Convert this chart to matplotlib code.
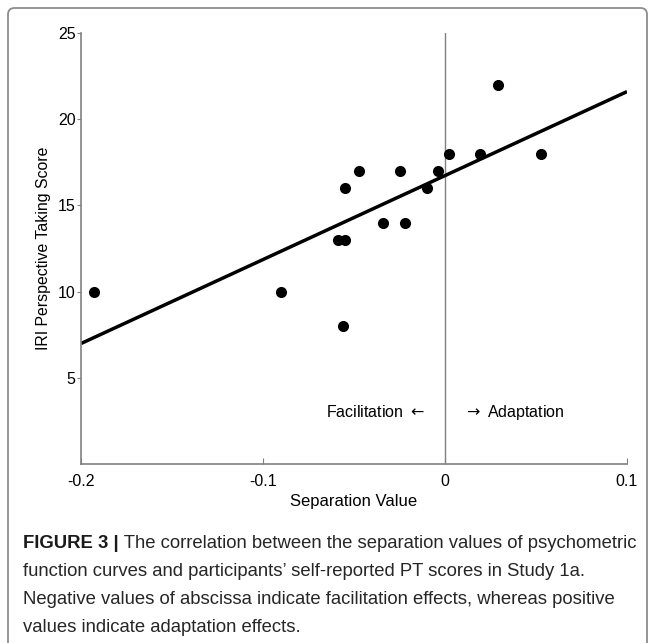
import numpy as np
import matplotlib
matplotlib.use('Agg')
import matplotlib.pyplot as plt
from matplotlib.patches import FancyBboxPatch

plt.rcParams['font.family'] = ['Liberation Sans', 'DejaVu Sans']

# separation values and PT scores
separation = [-0.193, -0.090, -0.059, -0.055, -0.056, -0.055, -0.0475, -0.034,
              -0.025, -0.022, -0.010, -0.004, 0.0024, 0.019, 0.029, 0.0525]
pt_score = [10, 10, 13, 13, 8, 16, 17, 14, 17, 14, 16, 17, 18, 18, 22, 18]

x_ticks = [-0.2, -0.1, 0, 0.1]
x_tick_labels = ['-0.2', '-0.1', '0', '0.1']
y_ticks = [5, 10, 15, 20, 25]

caption_bold = 'FIGURE 3 |'
caption_lines = [
    ' The correlation between the separation values of psychometric',
    'function curves and participants\u2019 self-reported PT scores in Study 1a.',
    'Negative values of abscissa indicate facilitation effects, whereas positive',
    'values indicate adaptation effects.',
]

W, H = 655, 643
fig = plt.figure(figsize=(W / 100, H / 100), dpi=100)

# light frame around the whole figure
frame = FancyBboxPatch((8 / W, -0.05), (W - 16) / W, 1.05 - 8 / H,
                       boxstyle='round,pad=0,rounding_size=0.01',
                       transform=fig.transFigure, fill=False,
                       edgecolor='#8c8c8c', linewidth=1.3)
fig.patches.append(frame)

ax = fig.add_axes([81 / W, 1 - 464 / H, 546 / W, 431 / H])

gray = '#808080'
ax.axvline(0, color=gray, linewidth=1.0, zorder=1)

ax.scatter(separation, pt_score, s=64, color='black', zorder=3, linewidths=0)

slope, intercept = np.polyfit(separation, pt_score, 1)
xl = np.array([-0.2, 0.1])
ax.plot(xl, slope * xl + intercept, color='black', linewidth=2.5, zorder=2,
        solid_capstyle='butt')

ax.set_xlim(-0.2, 0.1)
ax.set_ylim(0, 25)
ax.set_xticks(x_ticks)
ax.set_xticklabels(x_tick_labels)
ax.set_yticks(y_ticks)

for side in ['top', 'right']:
    ax.spines[side].set_visible(False)
for side in ['left', 'bottom']:
    ax.spines[side].set_color(gray)
    ax.spines[side].set_linewidth(1.2)

ax.tick_params(axis='x', direction='in', length=4, color=gray, labelsize=11.5,
               pad=7)
ax.tick_params(axis='y', direction='out', length=3, color=gray, labelsize=11.5,
               pad=1)

ax.set_xlabel('Separation Value', fontsize=12, labelpad=4)
ax.set_ylabel('IRI Perspective Taking Score', fontsize=11.4, labelpad=5)

ax.text(-0.011, 3, r'Facilitation $\leftarrow$', ha='right', va='center',
        fontsize=11.5)
ax.text(0.010, 3, r'$\rightarrow$ Adaptation', ha='left', va='center',
        fontsize=11.5)

# caption
cap_x = 23 / W
line_y = [544, 572, 600, 627]
cap_size = 13.3
cap_color = '#262626'
t_bold = fig.text(cap_x, 1 - line_y[0] / H, caption_bold, fontsize=cap_size,
                  fontweight='bold', color='#1a1a1a', va='center', ha='left')
fig.canvas.draw()
bb = t_bold.get_window_extent()
fig.text(bb.x1 / W, 1 - line_y[0] / H, caption_lines[0], fontsize=cap_size,
         color=cap_color, va='center', ha='left')
for ly, line in zip(line_y[1:], caption_lines[1:]):
    fig.text(cap_x, 1 - ly / H, line, fontsize=cap_size, color=cap_color,
             va='center', ha='left')

fig.savefig('out.png', dpi=100)
